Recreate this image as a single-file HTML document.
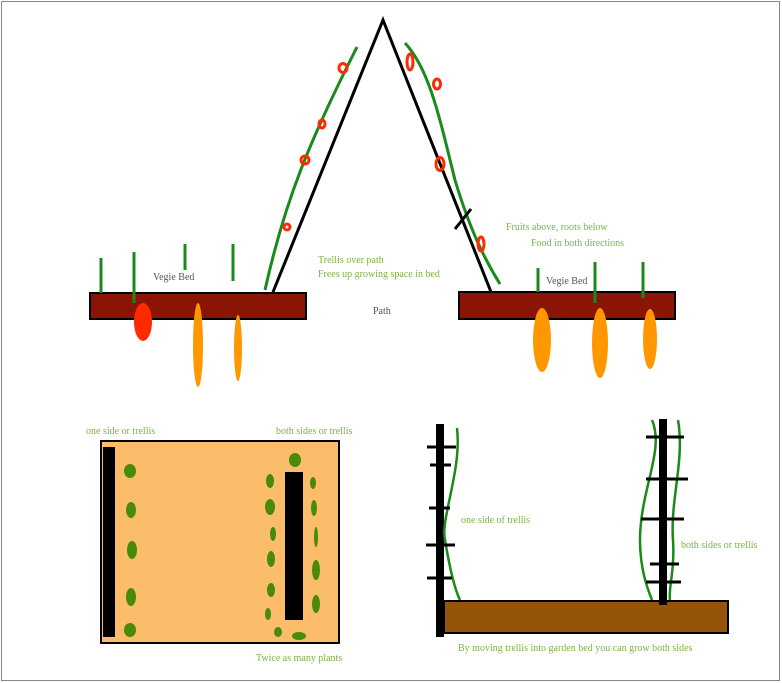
<!DOCTYPE html>
<html><head><style>
html,body{margin:0;padding:0;background:#fff;}
svg{display:block;}
text{font-family:"Liberation Serif",serif;font-size:10px;}
.g{fill:#7cb342;}
.k{fill:#555;}
</style></head><body>
<svg width="782" height="683" viewBox="0 0 782 683" xmlns="http://www.w3.org/2000/svg">
<rect x="1.5" y="1.5" width="778" height="679" fill="#fff" stroke="#888" stroke-width="1"/>
<polyline points="273,292 383,20 491,292" fill="none" stroke="#000" stroke-width="3"/>
<path d="M265,290 C285,200 310,140 357,47" fill="none" stroke="#1a8a1a" stroke-width="3"/>
<path d="M405,43 C430,70 440,120 455,180 C470,230 485,260 500,284" fill="none" stroke="#1a8a1a" stroke-width="3"/>
<line x1="455" y1="229" x2="471" y2="209" stroke="#000" stroke-width="3"/>
<g fill="none" stroke="#ff2a00" stroke-width="3">
<ellipse cx="343" cy="68" rx="4" ry="4.5"/>
<ellipse cx="322" cy="124" rx="3" ry="4"/>
<ellipse cx="305" cy="160" rx="4" ry="4"/>
<ellipse cx="287" cy="227" rx="3" ry="3"/>
<ellipse cx="410" cy="62" rx="3" ry="8"/>
<ellipse cx="437" cy="84" rx="3.5" ry="5"/>
<ellipse cx="440" cy="164" rx="4" ry="6.5"/>
<ellipse cx="481" cy="244" rx="3" ry="7"/>
</g>
<rect x="90" y="293" width="216" height="26" fill="#8b1505" stroke="#000" stroke-width="2"/>
<rect x="459" y="292" width="216" height="27" fill="#8b1505" stroke="#000" stroke-width="2"/>
<g stroke="#1a8a1a" stroke-width="3">
<line x1="101" y1="258" x2="101" y2="293"/>
<line x1="134" y1="252" x2="134" y2="303"/>
<line x1="185" y1="244" x2="185" y2="270"/>
<line x1="233" y1="244" x2="233" y2="281"/>
<line x1="538" y1="268" x2="538" y2="292"/>
<line x1="595" y1="262" x2="595" y2="303"/>
<line x1="643" y1="262" x2="643" y2="298"/>
</g>
<ellipse cx="143" cy="322" rx="9" ry="19" fill="#ff2a00"/>
<ellipse cx="198" cy="345" rx="5" ry="42" fill="#ff9800"/>
<ellipse cx="238" cy="348" rx="4" ry="33" fill="#ff9800"/>
<ellipse cx="542" cy="340" rx="9" ry="32" fill="#ff9800"/>
<ellipse cx="600" cy="343" rx="8" ry="35" fill="#ff9800"/>
<ellipse cx="650" cy="339" rx="7" ry="30" fill="#ff9800"/>
<text class="k" x="153" y="280">Vegie Bed</text>
<text class="k" x="373" y="314">Path</text>
<text class="g" x="318" y="263">Trellis over path</text>
<text class="g" x="318" y="277">Frees up growing space in bed</text>
<text class="g" x="506" y="230">Fruits above, roots below</text>
<text class="g" x="531" y="246">Food in both directions</text>
<text class="k" x="546" y="284">Vegie Bed</text>
<text class="g" x="86" y="434">one side or trellis</text>
<text class="g" x="276" y="434">both sides or trellis</text>
<rect x="101" y="441" width="238" height="202" fill="#fbbd6a" stroke="#000" stroke-width="2"/>
<rect x="103" y="447" width="12" height="190" fill="#000"/>
<rect x="285" y="472" width="18" height="148" fill="#000"/>
<g fill="#4a8a0a">
<ellipse cx="130" cy="471" rx="6" ry="7"/>
<ellipse cx="131" cy="510" rx="5" ry="8"/>
<ellipse cx="132" cy="550" rx="5" ry="9"/>
<ellipse cx="131" cy="597" rx="5" ry="9"/>
<ellipse cx="130" cy="630" rx="6" ry="7"/>
<ellipse cx="295" cy="460" rx="6" ry="7"/>
<ellipse cx="270" cy="481" rx="4" ry="7"/>
<ellipse cx="270" cy="507" rx="5" ry="8"/>
<ellipse cx="273" cy="534" rx="3" ry="7"/>
<ellipse cx="271" cy="559" rx="4" ry="8"/>
<ellipse cx="271" cy="590" rx="4" ry="7"/>
<ellipse cx="268" cy="614" rx="3" ry="6"/>
<ellipse cx="278" cy="632" rx="4" ry="5"/>
<ellipse cx="299" cy="636" rx="7" ry="4"/>
<ellipse cx="313" cy="483" rx="3" ry="6"/>
<ellipse cx="314" cy="508" rx="3" ry="8"/>
<ellipse cx="316" cy="537" rx="2" ry="10"/>
<ellipse cx="316" cy="570" rx="4" ry="10"/>
<ellipse cx="316" cy="604" rx="4" ry="9"/>
</g>
<text class="g" x="256" y="661">Twice as many plants</text>
<rect x="444" y="601" width="284" height="32" fill="#96540a" stroke="#000" stroke-width="2"/>
<rect x="436" y="424" width="8" height="213" fill="#000"/>
<rect x="659" y="419" width="8" height="186" fill="#000"/>
<path d="M457,428 C462,470 440,520 445,540 C450,570 455,590 460,600" fill="none" stroke="#1a8a1a" stroke-width="2.5"/>
<path d="M652,420 C665,450 640,490 640,540 C640,570 648,590 652,600" fill="none" stroke="#1a8a1a" stroke-width="2.5"/>
<path d="M678,420 C685,460 670,500 673,540 C675,570 668,590 670,600" fill="none" stroke="#1a8a1a" stroke-width="2.5"/>
<g stroke="#000" stroke-width="3">
<line x1="427" y1="447" x2="456" y2="447"/>
<line x1="430" y1="465" x2="451" y2="465"/>
<line x1="429" y1="508" x2="450" y2="508"/>
<line x1="426" y1="545" x2="455" y2="545"/>
<line x1="427" y1="578" x2="452" y2="578"/>
<line x1="646" y1="437" x2="684" y2="437"/>
<line x1="646" y1="479" x2="688" y2="479"/>
<line x1="641" y1="519" x2="684" y2="519"/>
<line x1="650" y1="564" x2="679" y2="564"/>
<line x1="646" y1="582" x2="681" y2="582"/>
</g>
<text class="g" x="461" y="523">one side of trellis</text>
<text class="g" x="681" y="548">both sides or trellis</text>
<text class="g" x="458" y="651">By moving trellis into garden bed you can grow both sides</text>
</svg>
</body></html>
